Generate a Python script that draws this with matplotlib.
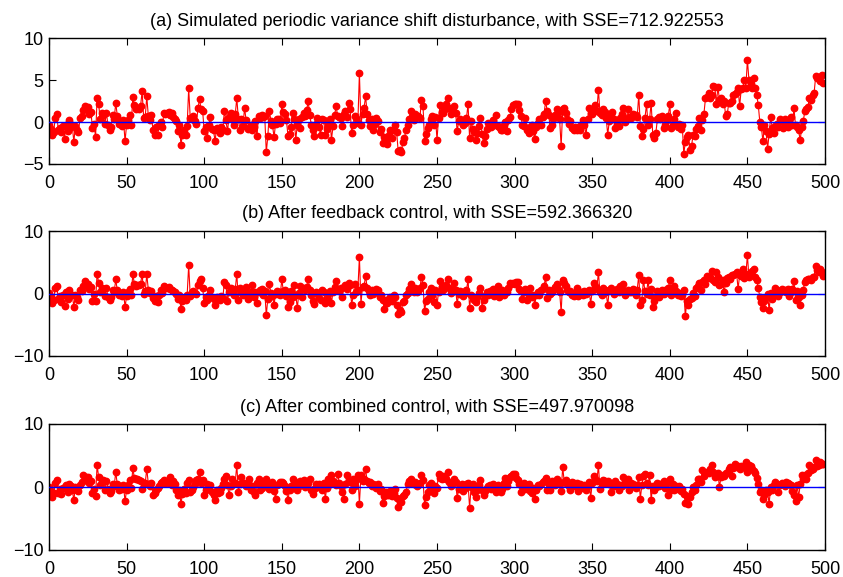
import numpy as np
import matplotlib
matplotlib.use("Agg")
import matplotlib.pyplot as plt

plt.rcParams['font.family'] = ['Liberation Sans', 'DejaVu Sans']

titles = [
    "(a) Simulated periodic variance shift disturbance, with SSE=712.922553",
    "(b) After feedback control, with SSE=592.366320",
    "(c) After combined control, with SSE=497.970098",
]

series_a = [
    -0.3, -0.8, -1.6, -1.2, 0.5, 1.0, -1.0, -0.7, -1.2, -0.5, -2.0, -0.3, -1.1, 0.2, -0.6, -0.4, -2.4, -0.5, -0.9, -1.2, 0.5, 0.7, 1.4, 1.9, 1.6,
    1.8, 0.9, 1.2, -0.7, -0.2, -1.8, 2.9, 2.1, 0.3, 1.1, 0.8, -0.2, 1.1, -0.4, -0.9, -0.6, 0.8, 0.3, 2.3, 0.75, -0.2, 0.1, -0.5, 0.2, -2.3,
    -0.3, 0.2, 0.8, -0.4, 3.0, 2.0, 1.5, 1.7, 1.6, 1.9, 3.65, 0.5, 0.6, 3.05, 0.7, 0.2, 0.8, -1.0, -1.5, -0.6, -1.6, -0.4, 0.0, -0.6, 1.1,
    0.9, 1.1, 1.2, 0.8, 1.1, 0.6, 0.3, 0.1, -1.1, -0.3, -2.7, -1.5, -0.9, -1.5, -0.5, 4.0, 0.5, 0.3, 0.7, 0.1, -0.2, 1.7, 2.7, 1.5, 1.3,
    -1.1, -0.6, -1.9, -0.4, 0.55, -0.8, -1.0, -2.3, -0.7, -0.9, -1.3, -0.6, -1.0, 1.35, 0.2, -1.1, 0.6, 1.1, 0.3, -0.4, 0.9, 2.85, 0.4, -0.9, 0.3,
    -0.5, 1.7, 0.2, -0.8, -0.7, -0.3, -1.0, -0.6, 0.1, -1.7, 0.7, 0.5, 0.8, 0.6, 0.7, -3.6, -1.7, 1.35, 0.1, -0.4, -1.8, -0.2, 0.4, 0.3, -0.1,
    2.1, 1.2, 0.9, 0.2, -1.7, -1.4, -0.6, 1.1, 0.4, -2.1, -0.3, 0.3, -0.7, 0.6, 1.1, 0.7, 1.4, 2.5, 0.8, -0.3, -0.9, -1.7, -0.2, 0.5, -0.6,
    -1.5, 0.3, 0.2, -1.6, -0.8, -0.3, 0.4, -2.1, -0.5, 0.8, 1.9, 0.7, 0.6, 0.5, -0.5, 0.9, 1.3, 0.6, 2.3, 1.5, -1.3, -0.4, 0.7, 0.5, -0.1,
    5.8, -0.3, 1.0, 1.7, 3.05, 1.0, 0.2, -0.5, 0.3, -0.9, -0.2, 0.5, 0.1, -1.2, -0.8, -2.5, -1.8, -2.3, -2.6, -1.5, -1.0, -1.9, -0.9, -0.3, -1.2,
    -3.5, -3.3, -3.6, -2.4, -1.9, -1.0, -0.4, 0.4, 1.3, 0.6, 0.2, 0.9, 0.6, 0.7, 0.5, 2.65, 1.9, -2.3, -1.4, -0.7, -0.4, 0.3, 0.7, -0.3, 0.6,
    -2.1, 0.5, 2.0, 1.2, 1.1, 1.5, 2.2, 2.85, 1.7, 0.9, 1.3, 1.9, 1.1, -1.1, 0.1, 0.3, 0.0, -0.3, -0.1, 0.5, 2.1, -1.9, 0.1, -0.8, -1.2,
    -2.1, -1.3, -0.5, 0.5, -1.4, -2.5, -1.7, -0.8, -0.1, -0.3, -0.6, 0.2, -0.3, 0.8, -0.5, -0.6, -0.9, -1.0, -0.4, 0.0, -1.1, 0.2, 0.6, 1.5, 2.0,
    2.1, 2.2, 2.1, 1.4, 0.7, -0.3, -0.5, 0.5, -0.9, -1.3, -0.6, -0.3, -1.1, -2.0, -0.6, -0.1, 0.4, -0.3, 0.6, 1.0, 2.5, 1.3, 0.8, -0.7, -0.3,
    0.4, 0.8, 1.5, 1.1, 0.3, -2.9, 1.6, 1.7, 1.1, 0.4, -0.2, 0.1, -0.7, -0.9, -0.6, -1.0, -0.6, -0.9, -0.4, 0.2, -0.3, -1.6, 0.3, 1.7, 1.1,
    0.9, 1.4, 2.0, 1.3, 3.85, 1.1, 0.8, 1.5, 1.2, 0.5, -1.5, 0.1, 0.9, 1.2, 0.3, -0.7, -0.2, -0.5, 0.5, 1.0, 1.7, 0.0, 0.3, 1.5, 0.6,
    0.5, 0.9, 0.8, 0.8, 0.6, 3.25, -0.5, -1.7, -0.8, 0.5, 2.1, -0.3, 0.4, 2.3, -1.5, -1.9, -1.3, 0.3, 0.6, 0.4, 0.7, -0.7, -0.4, 0.2, 0.7,
    2.1, -0.7, -0.3, 0.3, 1.1, -0.6, -0.2, -0.8, -0.3, -3.8, -2.4, -1.8, -1.5, -3.3, -2.9, -1.5, -1.7, -0.8, -0.5, 0.5, -0.9, 0.2, 1.0, 2.85, 3.0,
    3.45, 2.8, 3.2, 4.25, 4.2, 2.1, 4.2, 2.6, 2.9, 2.2, 2.5, 0.7, 0.9, 2.3, 2.3, 2.5, 3.25, 3.3, 3.6, 4.05, 1.85, 3.9, 4.0, 5.05, 4.1,
    7.4, 5.0, 4.5, 4.0, 5.25, 4.1, 3.2, 2.05, 0.0, -0.6, -2.3, -0.4, -1.1, -3.2, -1.4, 0.6, -0.7, -1.3, -0.5, -0.2, -0.6, 0.4, 0.1, -0.7, 0.4,
    -0.2, -0.6, 0.1, 0.6, -0.3, 1.65, -0.4, -0.6, -1.0, -2.2, -0.6, 0.1, 1.3, 1.6, 1.8, 2.85, 2.6, 3.2, 3.5, 5.45, 5.2, 5.3, 4.9, 5.6, 4.6,
]

series_b = [
    0.1, -0.5, -1.5, -1.0, 0.9, 1.2, -0.8, -0.4, -1.3, -0.2, -2.0, 0.2, -0.9, 0.6, -0.3, -0.2, -2.1, -0.3, -0.6, -1.0, 0.6, 0.4, 1.2, 2.0, 1.4,
    1.6, 0.7, 1.0, -1.2, 0.0, -1.2, 3.2, 1.7, 0.2, 0.9, 0.7, -0.4, 0.9, -0.6, -1.0, -0.5, 0.6, 0.2, 2.25, 0.5, -0.2, 0.1, -0.4, 0.3, -2.2,
    -0.4, 0.2, 0.7, -0.3, 3.15, 1.5, 1.2, 1.4, 1.3, 1.5, 3.2, 0.0, 0.4, 3.05, 0.6, 0.1, 0.4, -0.7, -1.2, -0.4, -1.3, -0.3, 0.6, 0.1, 1.2,
    0.9, 0.9, 1.0, 0.7, 0.6, 0.4, 0.2, 0.0, -0.9, -0.2, -2.55, -1.2, -0.7, -1.0, -0.3, 4.5, -0.4, 0.2, 0.4, 0.1, -0.1, 1.4, 2.0, 2.25, 0.9,
    -1.5, -0.5, -1.0, -0.3, 0.6, -0.6, -0.8, -1.9, -0.6, -0.9, -1.0, -0.4, -0.7, 1.8, 1.4, -1.2, 0.3, 0.9, 0.4, -0.2, 0.7, 3.15, -1.0, 0.9, 0.2,
    -0.3, 0.4, 1.1, -0.9, -0.4, 0.2, 1.4, -0.6, 0.3, -1.5, 0.2, 0.5, 0.7, -0.3, 0.4, -3.5, -0.8, 1.45, 0.1, -0.4, -1.8, 0.0, 0.4, 0.2, -0.2,
    2.25, 0.4, 0.6, -0.4, -2.1, -1.3, 0.4, -0.5, 1.4, -0.3, -2.3, 0.1, 1.2, -0.5, 0.9, 0.5, 1.1, 2.35, 0.6, -0.2, -1.2, -1.6, 0.3, 0.1, -0.7,
    -1.0, 0.6, 0.3, -1.5, -0.8, -0.1, 0.4, -1.5, 0.3, 1.1, 2.0, 0.6, 0.4, 0.9, -0.6, 1.0, 1.3, 0.8, 1.7, 1.3, -1.8, -0.3, 1.5, 0.3, 0.6,
    5.85, -1.6, 1.1, 1.2, 2.8, 0.9, 0.4, -0.3, 0.6, -0.1, 0.3, 0.8, 0.5, -0.6, -0.2, -1.1, -2.45, -1.0, -1.5, -0.8, -0.5, -1.2, -0.3, -0.5, -1.8,
    -3.2, -2.6, -2.9, -1.3, -1.2, -0.3, 0.1, 0.7, 1.45, 0.6, 0.3, 0.9, 0.2, 0.4, 0.9, 2.65, 1.4, -2.8, -1.2, -0.8, 0.2, 0.9, -0.3, -1.3, 0.5,
    -1.9, 0.3, 2.0, 1.0, 0.6, 1.2, 1.4, 2.25, 0.9, 0.1, 0.6, 1.7, 0.5, -1.6, 0.0, 0.4, 0.2, -0.4, 0.1, 0.5, 2.25, -2.3, -0.2, -0.6, -1.0,
    -1.3, -0.6, 0.1, 0.9, -2.3, -1.0, -0.4, 0.3, -0.2, 0.4, -0.1, 0.8, -0.4, 0.6, 1.2, -0.5, -0.2, 0.6, -0.2, 0.2, 0.3, 0.9, 1.7, 1.6, 1.7,
    1.5, 1.8, 1.8, 0.7, 0.4, -0.8, 0.2, 0.7, -1.0, -0.2, 0.9, -0.5, -0.3, -1.8, -0.2, 0.2, -0.3, 0.5, 0.8, 1.2, 2.65, -0.7, 0.6, 0.0, 0.3,
    0.6, 1.0, 1.45, 0.8, 0.3, -3.0, 2.15, 1.7, 1.2, 0.6, 0.3, 0.4, -0.2, -0.4, 0.1, 0.9, -0.4, -0.1, 0.3, -0.3, 0.4, 0.0, 0.2, 0.6, -1.6,
    0.4, 1.7, 1.2, 0.8, 3.4, 0.2, -0.2, 0.9, 0.5, 0.2, -1.9, 0.6, 0.9, 0.5, -0.1, 0.4, 0.7, 0.3, 1.2, 0.7, 1.45, -0.2, 0.3, 0.5, 0.3,
    0.2, 0.8, 0.5, -0.2, 0.6, 2.95, -1.8, -1.0, 2.15, 0.4, 0.0, 2.15, -0.3, 0.8, -2.1, -1.2, -0.6, 0.4, -0.5, 0.3, 0.6, -0.1, 0.5, 0.2, 0.9,
    2.15, -0.2, 0.5, 1.2, 0.4, -0.2, 0.1, -0.4, -0.2, 0.5, -3.6, -1.2, -1.9, -0.9, -0.7, 0.1, -0.4, 0.9, 1.2, 1.7, 0.5, 1.9, 2.1, 1.6, 2.8,
    2.5, 2.6, 3.6, 2.2, 1.8, 3.4, 2.6, 1.4, 1.6, 2.2, 0.2, 1.7, 2.5, 2.6, 2.3, 2.9, 2.9, 3.2, 3.4, 0.7, 3.0, 2.8, 3.85, 2.5, 3.1,
    6.1, 2.6, 3.2, 3.6, 3.9, 2.6, 2.1, 0.9, -0.6, -1.4, -2.3, -1.2, -0.5, -0.1, -2.7, 0.1, -0.9, -0.2, 0.9, 0.6, -0.4, 0.3, 0.7, 0.4, 0.6,
    0.3, 0.8, -0.4, 0.2, 0.7, 2.0, -1.0, 0.4, -0.6, -1.8, -0.2, 0.6, 1.9, 2.2, 2.4, 2.35, 2.1, 2.6, 2.7, 4.35, 3.8, 3.5, 3.95, 3.5, 2.8,
]

series_c = [
    0.0, -0.6, -1.6, -1.0, 0.6, 1.05, -0.9, -0.3, -1.1, -0.1, 0.0, 0.3, -0.8, 0.5, 0.2, -0.5, -2.1, 0.0, -0.4, -0.6, 0.3, 0.8, 1.85, 1.2, 1.6,
    1.6, 0.6, 0.9, -1.0, -0.3, -1.4, 3.45, 1.6, 0.3, 0.8, 1.05, -0.5, 1.0, -0.3, -1.0, -0.6, 0.5, 0.1, 2.4, 0.4, -0.5, 0.2, -0.3, 0.3, -2.3,
    -0.4, 0.3, 1.05, -0.2, 3.0, 1.4, 1.3, 1.2, 1.1, 1.0, -0.3, 0.5, 0.6, 2.9, 0.5, 0.2, 0.6, -1.3, -0.9, -0.5, -0.2, 0.2, 0.6, 0.8, 1.05,
    0.6, 0.8, 0.7, 1.6, 0.3, 1.0, 0.4, -0.4, -1.3, -0.5, -2.65, -1.1, -0.3, -0.9, 0.6, 1.15, -0.8, -0.4, 0.0, 0.4, 1.1, 1.3, 2.4, 0.6, 1.05,
    -1.3, -0.4, 0.5, -0.3, 0.3, -0.8, -1.3, -2.0, -0.4, -1.0, -0.8, -0.2, 0.5, 1.2, 1.75, 0.3, -1.3, 0.2, 1.3, 0.6, 0.7, 3.55, -0.8, 0.5, 1.6,
    0.7, 0.5, 0.2, 0.8, 1.2, -0.5, 0.2, -0.8, -1.3, 0.6, 1.3, -0.5, -0.1, 0.7, 0.4, 1.3, 0.3, -0.3, 0.4, 0.8, -0.6, -1.85, 0.3, 0.4, 0.8,
    0.8, 0.6, 0.2, -0.6, -2.1, -0.4, 0.2, 1.3, 0.9, 0.1, -0.5, 0.2, 0.9, 0.6, 1.05, 0.0, 0.5, 0.6, 1.3, -0.5, -1.1, -0.3, 0.5, 0.0, 0.4,
    -0.2, -0.4, 0.6, -1.85, -0.1, 1.3, 0.4, 1.95, 0.9, 0.6, 0.3, 2.1, 0.7, 0.2, -0.8, -1.85, 0.5, 1.9, 1.0, 0.8, -0.5, 1.2, 0.2, 1.1, 1.95,
    -2.65, 1.85, 1.0, 1.3, 2.8, 0.9, 0.6, 0.8, 0.2, 0.5, 0.3, -0.2, 0.5, -0.6, -0.3, -2.5, -1.4, -0.8, -1.2, -1.3, -0.6, -1.4, -0.9, -0.3, -1.7,
    -3.2, -2.4, -2.4, -1.5, -1.3, -0.8, 0.4, 0.9, 1.3, 0.6, 0.5, 0.8, 0.1, 0.3, 0.6, 1.85, 1.1, -2.9, -1.6, -0.8, 0.3, 0.6, -0.5, -0.9, 0.2,
    -0.2, 2.1, 1.4, 1.3, 1.8, 1.6, 1.2, 2.4, 0.8, 0.2, 0.6, 1.3, 0.8, -1.75, -0.3, 0.2, 0.4, -0.6, -0.2, 0.4, 0.6, -3.3, 0.0, 0.5, -0.8,
    -1.6, -0.5, 0.3, 1.05, -0.4, -1.3, -0.6, -0.2, 0.1, 0.3, -0.3, 0.4, -0.2, -0.8, 0.3, -0.4, -0.8, -0.3, 0.6, 1.4, 0.2, 0.9, 1.6, 1.8, 2.1,
    2.1, 1.5, 1.1, 0.4, -0.8, 0.2, 0.7, -0.3, -0.1, 0.5, -0.6, -1.0, -0.2, -1.85, -0.4, 0.3, 0.1, 0.5, 0.8, 1.0, 1.45, -0.5, 0.4, -0.4, 1.0,
    0.6, 0.3, 1.2, 0.9, 0.5, -0.7, 3.15, 0.8, 1.1, 0.4, 0.2, -0.4, 0.8, 0.6, 0.2, 0.6, -0.6, 0.4, -0.2, 0.1, 0.3, -0.5, 0.2, 0.8, -1.75,
    0.6, 1.8, 1.2, 0.9, 3.45, -0.3, 0.5, 1.1, 0.9, 0.6, 1.0, 0.5, -0.8, 0.3, 0.1, 1.0, 0.5, -0.4, 0.3, 0.2, 1.6, 0.8, 0.4, 1.2, -0.5,
    0.6, 0.5, 0.1, -0.2, 0.3, 1.6, -1.85, 0.3, 1.8, 2.0, 0.7, 0.3, 1.9, -2.1, 0.2, -0.5, 0.0, 0.6, 0.2, 0.4, 0.3, 1.0, -0.2, 0.6, -1.3,
    1.3, -0.4, 0.5, -0.5, 0.1, -0.3, 0.2, -0.6, -0.3, -1.1, -2.5, -1.4, -2.65, -1.6, -0.8, 0.0, -0.4, 0.3, 1.3, 1.3, 0.8, 2.65, 1.8, 2.2, 2.4,
    2.3, 2.9, 3.45, 2.4, 1.6, 1.8, 2.2, 0.0, 1.6, 1.9, 1.8, 2.3, 2.2, 2.9, 3.1, 1.8, 3.0, 3.7, 3.1, 3.3, 2.9, 3.4, 3.1, 3.3, 3.95,
    2.4, 3.45, 3.3, 2.9, 2.6, 2.2, 1.4, 0.5, -0.8, -0.5, -1.85, -1.2, -0.4, -0.8, -2.65, 0.0, -0.5, 0.3, 0.8, 0.5, -0.8, 0.3, 0.6, 0.5, 0.2,
    0.8, 0.6, 0.5, 0.3, -0.6, -1.3, -2.25, 0.3, -1.6, 0.4, 1.85, 1.3, 1.9, 1.2, 2.2, 3.55, 2.7, 2.9, 3.2, 4.35, 3.4, 3.5, 3.9, 3.7, 3.7,
]

xticks = [0, 50, 100, 150, 200, 250, 300, 350, 400, 450, 500]
ylims = [(-5, 10), (-10, 10), (-10, 10)]
yticks_list = [[-5, 0, 5, 10], [-10, 0, 10], [-10, 0, 10]]

W, H = 843, 577
rects_px = [(49, 38, 825, 164), (49, 231, 825, 356), (49, 424, 825, 550)]

fig = plt.figure(figsize=(W / 100, H / 100), dpi=100)

for k, ys in enumerate([series_a, series_b, series_c]):
    l, t, r, b = rects_px[k]
    ax = fig.add_axes([l / W, 1 - b / H, (r - l) / W, (b - t) / H])
    y = np.asarray(ys, dtype=float)
    x = np.arange(len(y))
    ax.plot(x, y, '-', color='red', lw=0.8, marker='o', ms=4.6,
            mfc='red', mec='red', zorder=2)
    ax.plot([0, 500], [0, 0], color='blue', lw=1.0, zorder=3)
    ax.set_xlim(0, 500)
    ax.set_ylim(*ylims[k])
    ax.set_xticks(xticks)
    ax.set_yticks(yticks_list[k])
    ax.tick_params(direction='in', top=True, right=True, length=5, width=0.8,
                   labelsize=13, colors='black')
    ax.tick_params(axis='x', pad=8)
    ax.tick_params(axis='y', pad=4)
    for s in ax.spines.values():
        s.set_linewidth(1.0)
    ax.set_title(titles[k], fontsize=13, pad=9)

fig.savefig('out.png', dpi=100)
